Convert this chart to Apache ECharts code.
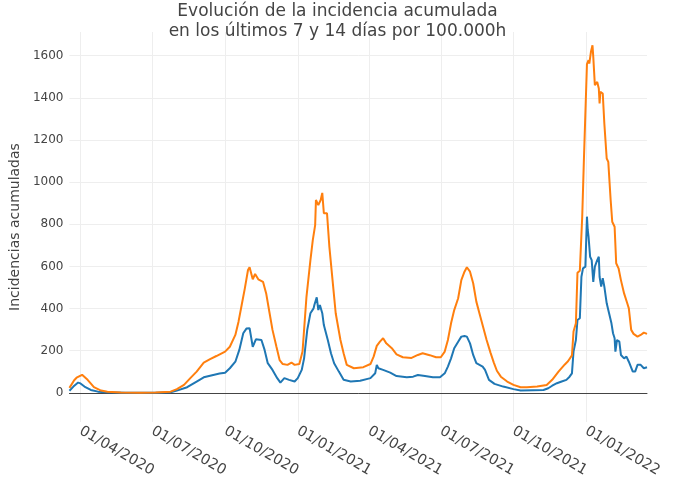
<!DOCTYPE html>
<html>
<head>
<meta charset="utf-8">
<script src="https://cdn.jsdelivr.net/npm/echarts@6/dist/echarts.min.js"></script>
<style>html,body{margin:0;padding:0;background:#fff}#c{width:675px;height:500px}</style>
</head>
<body>
<div id="c"></div>
<script>
const titleLines = ['Evolución de la incidencia acumulada', 'en los últimos 7 y 14 días por 100.000h'];
const yAxisTitle = 'Incidencias acumuladas';
const xTickDates = ['2020-04-01','2020-07-01','2020-10-01','2021-01-01','2021-04-01','2021-07-01','2021-10-01','2022-01-01'];
const xRange = ['2020-03-18', '2022-03-19'];

const dates14 = ['2020-03-18','2020-03-24','2020-03-27','2020-04-03','2020-04-10','2020-04-18','2020-04-27','2020-05-05','2020-05-22','2020-06-16','2020-07-05','2020-07-24','2020-08-01','2020-08-10','2020-08-18','2020-08-26','2020-09-04','2020-09-12','2020-09-20','2020-10-01','2020-10-07','2020-10-14','2020-10-18','2020-10-22','2020-10-26','2020-10-30','2020-11-01','2020-11-05','2020-11-08','2020-11-12','2020-11-18','2020-11-22','2020-11-26','2020-11-30','2020-12-05','2020-12-09','2020-12-13','2020-12-19','2020-12-24','2020-12-28','2021-01-03','2021-01-07','2021-01-09','2021-01-12','2021-01-17','2021-01-20','2021-01-23','2021-01-24','2021-01-27','2021-01-30','2021-02-01','2021-02-03','2021-02-07','2021-02-10','2021-02-14','2021-02-18','2021-02-24','2021-02-28','2021-03-04','2021-03-13','2021-03-25','2021-04-03','2021-04-07','2021-04-11','2021-04-15','2021-04-19','2021-04-23','2021-04-30','2021-05-06','2021-05-14','2021-05-25','2021-06-02','2021-06-08','2021-06-17','2021-06-25','2021-07-01','2021-07-06','2021-07-10','2021-07-14','2021-07-18','2021-07-23','2021-07-27','2021-07-31','2021-08-03','2021-08-07','2021-08-11','2021-08-15','2021-08-20','2021-08-24','2021-08-28','2021-09-02','2021-09-06','2021-09-10','2021-09-15','2021-09-23','2021-10-01','2021-10-10','2021-10-18','2021-10-31','2021-11-12','2021-11-19','2021-11-27','2021-12-05','2021-12-09','2021-12-14','2021-12-16','2021-12-19','2021-12-21','2021-12-24','2021-12-27','2021-12-29','2021-12-31','2022-01-02','2022-01-04','2022-01-05','2022-01-07','2022-01-09','2022-01-10','2022-01-12','2022-01-15','2022-01-17','2022-01-18','2022-01-19','2022-01-22','2022-01-24','2022-01-27','2022-01-29','2022-02-01','2022-02-03','2022-02-06','2022-02-08','2022-02-11','2022-02-14','2022-02-18','2022-02-22','2022-02-24','2022-02-27','2022-03-02','2022-03-07','2022-03-11','2022-03-15','2022-03-19'];
const values14 = [24,60,72,86,62,27,11,5,2,1,2,6,18,38,70,101,144,160,175,196,219,275,338,417,496,583,596,539,564,539,527,472,385,299,219,156,137,133,144,133,137,196,204,456,630,725,796,915,891,915,949,852,852,693,535,378,251,188,133,117,122,137,172,223,243,259,235,212,183,169,166,180,188,179,169,169,196,251,330,393,449,535,575,596,575,520,433,362,307,251,190,145,105,77,54,38,27,27,30,38,62,101,135,150,178,291,330,570,580,836,1088,1096,1560,1578,1562,1617,1649,1594,1460,1475,1444,1373,1428,1420,1278,1112,1096,915,812,788,615,591,535,472,425,401,299,280,267,275,286,280];

const dates7 = ['2020-03-18','2020-03-23','2020-03-29','2020-04-01','2020-04-06','2020-04-14','2020-04-23','2020-05-03','2020-05-28','2020-07-05','2020-07-24','2020-08-01','2020-08-14','2020-08-26','2020-09-04','2020-09-16','2020-09-24','2020-10-01','2020-10-07','2020-10-14','2020-10-19','2020-10-24','2020-10-28','2020-11-01','2020-11-05','2020-11-07','2020-11-09','2020-11-16','2020-11-20','2020-11-24','2020-11-30','2020-12-06','2020-12-10','2020-12-15','2020-12-21','2020-12-28','2021-01-01','2021-01-06','2021-01-09','2021-01-13','2021-01-17','2021-01-21','2021-01-22','2021-01-25','2021-01-27','2021-01-29','2021-02-01','2021-02-03','2021-02-08','2021-02-12','2021-02-16','2021-02-22','2021-02-28','2021-03-09','2021-03-21','2021-04-03','2021-04-09','2021-04-11','2021-04-13','2021-04-19','2021-04-28','2021-05-06','2021-05-19','2021-05-27','2021-06-02','2021-06-11','2021-06-21','2021-06-30','2021-07-06','2021-07-10','2021-07-14','2021-07-18','2021-07-23','2021-07-27','2021-07-31','2021-08-03','2021-08-07','2021-08-11','2021-08-15','2021-08-19','2021-08-23','2021-08-26','2021-08-31','2021-09-07','2021-09-18','2021-10-01','2021-10-10','2021-10-26','2021-11-08','2021-11-14','2021-11-19','2021-11-25','2021-12-01','2021-12-07','2021-12-11','2021-12-14','2021-12-16','2021-12-19','2021-12-21','2021-12-24','2021-12-26','2021-12-28','2021-12-31','2022-01-02','2022-01-03','2022-01-04','2022-01-06','2022-01-08','2022-01-10','2022-01-12','2022-01-15','2022-01-17','2022-01-18','2022-01-20','2022-01-22','2022-01-24','2022-01-27','2022-01-30','2022-02-02','2022-02-04','2022-02-06','2022-02-07','2022-02-09','2022-02-12','2022-02-14','2022-02-18','2022-02-21','2022-02-24','2022-02-26','2022-03-01','2022-03-04','2022-03-07','2022-03-11','2022-03-15','2022-03-19'];
const values7 = [10,30,49,45,30,14,6,3,1,1,3,11,27,54,74,85,92,96,117,148,204,283,305,307,219,223,254,251,204,141,109,70,49,70,62,54,70,109,164,299,378,401,417,453,393,417,378,322,251,188,141,101,62,54,58,70,93,133,117,109,96,80,74,77,85,80,74,74,93,125,164,212,243,267,270,267,235,180,141,133,125,109,62,43,30,18,11,13,14,22,34,46,54,62,77,93,196,251,346,354,551,591,599,836,773,741,646,630,527,599,630,646,551,504,544,504,425,378,330,283,259,196,251,243,180,164,172,148,141,101,101,133,133,117,122];

const FONT = '"DejaVu Sans", Verdana, sans-serif';
const zip = (d, v) => d.map((x, i) => [x, v[i]]);

const chart = echarts.init(document.getElementById('c'), null, {renderer: 'canvas'});
chart.setOption({
  animation: false,
  backgroundColor: '#fff',
  textStyle: {fontFamily: FONT},
  title: {
    text: titleLines.join('\n'),
    left: 'center',
    top: -3,
    textStyle: {fontSize: 17, fontWeight: 'normal', color: '#444', lineHeight: 20, fontFamily: FONT, align: 'center'}
  },
  grid: {left: 64, right: 28, top: 32, bottom: 78},
  xAxis: [{
    type: 'time',
    min: xRange[0],
    max: xRange[1],
    axisLine: {show: false, onZero: false},
    axisTick: {show: false, customValues: xTickDates},
    splitLine: {show: true, lineStyle: {color: '#eee', width: 1}},
    axisLabel: {
      customValues: xTickDates,
      rotate: -30,
      margin: 8,
      fontSize: 14.5,
      color: '#444',
      fontFamily: FONT,
      formatter: '{dd}/{MM}/{yyyy}',
      hideOverlap: false
    }
  }, {
    type: 'time',
    min: xRange[0],
    max: xRange[1],
    position: 'bottom',
    axisLine: {show: true, onZero: true, lineStyle: {color: '#444', width: 1}},
    axisTick: {show: false},
    axisLabel: {show: false},
    splitLine: {show: false}
  }],
  yAxis: {
    type: 'value',
    min: -138,
    max: 1712,
    minInterval: 200,
    maxInterval: 200,
    name: yAxisTitle,
    nameLocation: 'middle',
    nameRotate: 90,
    nameGap: 38,
    nameTextStyle: {fontSize: 14, color: '#444', fontFamily: FONT},
    axisLine: {show: false},
    axisTick: {show: false},
    splitLine: {show: true, showMinLine: false, showMaxLine: false, lineStyle: {color: '#eee', width: 1}},
    axisLabel: {
      fontSize: 12, color: '#444', margin: 6, fontFamily: FONT,
      showMinLabel: false, showMaxLabel: false,
      formatter: v => String(v)
    }
  },
  series: [{
    name: '7 días',
    type: 'line',
    xAxisIndex: 0,
    data: zip(dates7, values7),
    showSymbol: false,
    lineStyle: {color: '#1f77b4', width: 2},
    itemStyle: {color: '#1f77b4'}
  }, {
    name: '14 días',
    type: 'line',
    xAxisIndex: 0,
    data: zip(dates14, values14),
    showSymbol: false,
    lineStyle: {color: '#ff7f0e', width: 2},
    itemStyle: {color: '#ff7f0e'}
  }]
});
</script>
</body>
</html>
